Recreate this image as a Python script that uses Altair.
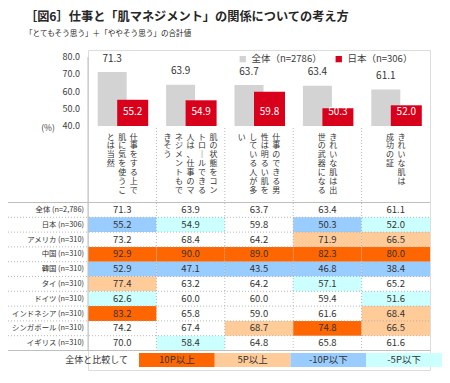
import altair as alt
import pandas as pd

FONT = "Noto Sans CJK JP"

# ---------------- data ----------------
cat_lines = [
    ["仕事をする上で", "肌に気を使うこ", "とは当然"],
    ["肌の状態をコン", "トロールできる", "人は、仕事のマ", "ネジメントもで", "きそう"],
    ["仕事のできる男", "性は明るい肌を", "している人が多", "い"],
    ["きれいな肌は出", "世の武器になる"],
    ["きれいな肌は", "成功の証"],
]
categories = ["".join(l) for l in cat_lines]

series_names = ["全体（n=2786）", "日本（n=306）"]
overall = [71.3, 63.9, 63.7, 63.4, 61.1]
japan = [55.2, 54.9, 59.8, 50.3, 52.0]
y_ticks = [40, 50, 60, 70, 80]

row_labels = ["全体 (n=2,786)", "日本 (n=306)", "アメリカ (n=310)", "中国 (n=310)",
              "韓国 (n=310)", "タイ (n=310)", "ドイツ (n=310)", "インドネシア (n=310)",
              "シンガポール (n=310)", "イギリス (n=310)"]
row_全体 = [71.3, 63.9, 63.7, 63.4, 61.1]
row_日本 = [55.2, 54.9, 59.8, 50.3, 52.0]
row_アメリカ = [73.2, 68.4, 64.2, 71.9, 66.5]
row_中国 = [92.9, 90.0, 89.0, 82.3, 80.0]
row_韓国 = [52.9, 47.1, 43.5, 46.8, 38.4]
row_タイ = [77.4, 63.2, 64.2, 57.1, 65.2]
row_ドイツ = [62.6, 60.0, 60.0, 59.4, 51.6]
row_インドネシア = [83.2, 65.8, 59.0, 61.6, 68.4]
row_シンガポール = [74.2, 67.4, 68.7, 74.8, 66.5]
row_イギリス = [70.0, 58.4, 64.8, 65.8, 61.6]
table_rows = [row_全体, row_日本, row_アメリカ, row_中国, row_韓国, row_タイ,
              row_ドイツ, row_インドネシア, row_シンガポール, row_イギリス]

legend_labels = ["10P以上", "5P以上", "-10P以下", "-5P以下"]
legend_colors = ["#FF6600", "#FFCC99", "#99CCFF", "#CCFFFF"]

GRAY = "#D3D3D3"
RED = "#D9001B"
TXT = "#333333"

W = 342
H = 320

# ---------------- frames ----------------
bars_df = pd.DataFrame({"cat": categories, "overall": overall, "japan": japan,
                        "s_all": series_names[0]})
ticks_df = pd.DataFrame({"t": y_ticks, "x0": 0})

vert = {"ー": "｜"}
col_step = 11.5 / 68.4
chars = []
for i, lines in enumerate(cat_lines):
    n = len(lines)
    for j, line in enumerate(lines):
        for k, ch in enumerate(line):
            chars.append({"pos": i + 0.5 + ((n - 1) / 2 - j) * col_step,
                          "k": k, "ch": vert.get(ch, ch)})
chars_df = pd.DataFrame(chars)


def classify(v, base):
    d = round(v - base, 1)
    if d >= 10:
        return legend_labels[0]
    if d >= 5:
        return legend_labels[1]
    if d <= -10:
        return legend_labels[2]
    if d <= -5:
        return legend_labels[3]
    return "none"


cells = []
for r, vals in zip(row_labels, table_rows):
    for c, v, b in zip(categories, vals, overall):
        cells.append({"row": r, "cat": c, "v": v,
                      "cls": "none" if r == row_labels[0] else classify(v, b)})
cells_df = pd.DataFrame(cells)
rows_df = pd.DataFrame({"row": row_labels, "x0": 0})

# ---------------- scales ----------------
def x_band():
    return alt.Scale(domain=categories, range=[0, W], paddingInner=0, paddingOuter=0)

def y_bar():
    return alt.Scale(domain=[40, 80], range=[76, 7], zero=False, nice=False)

def row_scale():
    return alt.Scale(domain=row_labels, range=[152.5, 300.5], paddingInner=0, paddingOuter=0)

def x_lin():
    return alt.Scale(domain=[0, 5], range=[0, W])

def leg_scale():
    return alt.Scale(domain=legend_labels, range=[51, 354], paddingInner=0, paddingOuter=0)

# ---------------- bars ----------------
base = alt.Chart(bars_df)
gray_bars = base.mark_bar(size=29, xOffset=-10).encode(
    x=alt.X("cat:N", scale=x_band(), axis=None),
    y=alt.Y("overall:Q", scale=y_bar(), axis=None),
    y2=alt.datum(40),
    color=alt.Color("s_all:N", scale=alt.Scale(domain=series_names, range=[GRAY, RED]),
                    legend=alt.Legend(orient="none", legendX=150, legendY=4,
                                      direction="horizontal", title=None,
                                      symbolType="square", symbolSize=40,
                                      labelFontSize=9.5, labelFont=FONT,
                                      labelColor="#404040", columnPadding=12,
                                      symbolStrokeWidth=0)),
)
red_bars = base.mark_bar(size=31, xOffset=10.5, color=RED).encode(
    x=alt.X("cat:N", scale=x_band(), axis=None),
    y=alt.Y("japan:Q", scale=y_bar(), axis=None),
    y2=alt.datum(40),
)
gray_txt = base.mark_text(xOffset=-10, dy=-13.5, fontSize=10, color=TXT, font=FONT).encode(
    x=alt.X("cat:N", scale=x_band(), axis=None),
    y=alt.Y("overall:Q", scale=y_bar(), axis=None),
    text=alt.Text("overall:Q", format=".1f"),
)
red_txt = base.mark_text(xOffset=10.5, dy=-14, fontSize=10, color="white", font=FONT).encode(
    x=alt.X("cat:N", scale=x_band(), axis=None),
    y=alt.datum(40, scale=y_bar(), axis=None),
    text=alt.Text("japan:Q", format=".1f"),
)
tick_txt = alt.Chart(ticks_df).mark_text(align="right", dx=-8, fontSize=9, color="#404040", font=FONT).encode(
    x=alt.X("x0:Q", scale=x_lin(), axis=None),
    y=alt.Y("t:Q", scale=y_bar(), axis=None),
    text=alt.Text("t:Q", format=".1f"),
)

# ---------------- vertical category labels ----------------
char_layer = alt.Chart(chars_df).mark_text(fontSize=8, color=TXT, font=FONT).encode(
    x=alt.X("pos:Q", scale=x_lin(), axis=None),
    y=alt.Y("k:Q", scale=alt.Scale(domain=[0, 6], range=[87.5, 87.5 + 6 * 8.9]), axis=None),
    text="ch:N",
)

# ---------------- grid lines ----------------
bounds_df = pd.DataFrame({"b": [1, 2, 3, 4]})
vlines = alt.Chart(bounds_df).mark_rule(color="#A6A6A6", strokeDash=[1, 2], strokeWidth=0.8).encode(
    x=alt.X("b:Q", scale=x_lin(), axis=None),
    y=alt.value(78), y2=alt.value(300.5),
)
left_line = alt.Chart(pd.DataFrame({"b": [0]})).mark_rule(color="#BFBFBF").encode(
    x=alt.X("b:Q", scale=x_lin(), axis=None),
    y=alt.value(7), y2=alt.value(300.5),
)
hlines = alt.Chart(rows_df.iloc[1:]).mark_rule(color="#A6A6A6", strokeDash=[1, 2], strokeWidth=0.8).encode(
    y=alt.Y("row:N", scale=row_scale(), bandPosition=0, axis=None),
    x=alt.value(-80), x2=alt.value(W),
)
top_line = alt.Chart(rows_df.iloc[:1]).mark_rule(color="#BFBFBF").encode(
    y=alt.Y("row:N", scale=row_scale(), bandPosition=0, axis=None),
    x=alt.value(-80), x2=alt.value(W),
)
bottom_line = alt.Chart(rows_df.iloc[-1:]).mark_rule(color="#BFBFBF").encode(
    y=alt.Y("row:N", scale=row_scale(), bandPosition=1, axis=None),
    x=alt.value(-80), x2=alt.value(W),
)

# ---------------- table ----------------
cell_rects = alt.Chart(cells_df).transform_filter(alt.datum.cls != "none").mark_rect().encode(
    x=alt.X("cat:N", scale=x_band(), axis=None),
    y=alt.Y("row:N", scale=row_scale(), axis=None),
    color=alt.Color("cls:N", scale=alt.Scale(domain=legend_labels, range=legend_colors), legend=None),
)
cell_txt = alt.Chart(cells_df).mark_text(fontSize=9.5, color=TXT, font=FONT).encode(
    x=alt.X("cat:N", scale=x_band(), axis=None),
    y=alt.Y("row:N", scale=row_scale(), axis=None),
    text=alt.Text("v:Q", format=".1f"),
)
row_txt = alt.Chart(rows_df).mark_text(align="right", dx=-4, fontSize=7.4, color=TXT, font=FONT).encode(
    x=alt.X("x0:Q", scale=x_lin(), axis=None),
    y=alt.Y("row:N", scale=row_scale(), axis=None),
    text="row:N",
)

# ---------------- bottom legend ----------------
leg_df = pd.DataFrame({"lab": legend_labels})
leg_rects = alt.Chart(leg_df).mark_rect().encode(
    x=alt.X("lab:N", scale=leg_scale(), axis=None),
    y=alt.value(303), y2=alt.value(317),
    color=alt.Color("lab:N", scale=alt.Scale(domain=legend_labels, range=legend_colors), legend=None),
)
leg_txt = alt.Chart(leg_df).mark_text(fontSize=9.5, color=TXT, font=FONT).encode(
    x=alt.X("lab:N", scale=leg_scale(), axis=None),
    y=alt.value(310),
    text="lab:N",
)

notes = pd.DataFrame({"t": ["全体と比較して"]})
compare_txt = alt.Chart(notes).mark_text(fontSize=9, color=TXT, font=FONT, align="right").encode(
    x=alt.value(40), y=alt.value(310), text="t:N",
)
pct_txt = alt.Chart(pd.DataFrame({"t": ["(%)"]})).mark_text(fontSize=8.5, color="#404040", font=FONT).encode(
    x=alt.value(-40), y=alt.value(78), text="t:N",
)

chart = alt.layer(
    cell_rects, cell_txt, row_txt,
    hlines, top_line, bottom_line, vlines, left_line,
    gray_bars, red_bars, gray_txt, red_txt, tick_txt,
    char_layer, leg_rects, leg_txt, compare_txt, pct_txt,
).resolve_scale(
    x="independent", y="independent", color="independent"
).resolve_axis(
    x="independent", y="independent"
).resolve_legend(color="independent").properties(
    width=W, height=H,
    autosize=alt.AutoSizeParams(type="none"),
    padding={"left": 80, "top": 42, "right": 12, "bottom": 5},
    title=alt.TitleParams(
        text="［図6］仕事と「肌マネジメント」の関係についての考え方",
        subtitle="「とてもそう思う」＋「ややそう思う」の合計値",
        anchor="start", frame="group", dx=-63, offset=12,
        fontSize=12.2, fontWeight="bold", font=FONT, color="#262626",
        subtitleFontSize=7.6, subtitleFont=FONT, subtitleColor="#262626",
        subtitlePadding=7,
    ),
).configure_view(stroke=None).configure(font=FONT)

chart.save("out.html", embed_options={"renderer": "svg", "actions": False})
